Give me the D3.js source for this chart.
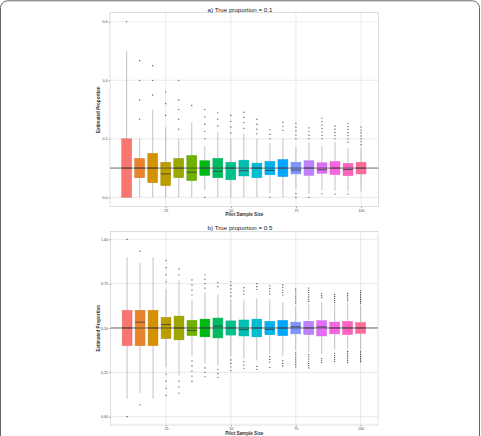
<!DOCTYPE html>
<html>
<head>
<meta charset="utf-8">
<script src="https://cdn.jsdelivr.net/npm/d3@7"></script>
<style>
  body { margin: 0; background: #fff; }
  text { font-family: "Liberation Sans", Arial, sans-serif; }
</style>
</head>
<body>
<div id="chart"></div>
<script>

// Pilot sample sizes (x positions of the boxes).
const sizes = [10, 15, 20, 25, 30, 35, 40, 45, 50, 55, 60, 65, 70, 75, 80, 85, 90, 95, 100];

// a) true proportion 0.1
const loA  = [0, 0, 0, 0, 0, 0, 0.025, 0, 0, 0, 0, 0.015, 0, 0.027, 0.0125, 0.024, 0.022, 0.021, 0.02];
const q1A  = [0, 0.067, 0.05, 0.04, 0.067, 0.057, 0.075, 0.067, 0.06, 0.073, 0.067, 0.077, 0.071, 0.08, 0.075, 0.082, 0.078, 0.074, 0.08];
const medA = [0.1, 0.1, 0.1, 0.08, 0.1, 0.086, 0.1, 0.089, 0.1, 0.091, 0.1, 0.092, 0.1, 0.093, 0.1, 0.094, 0.1, 0.095, 0.1];
const q3A  = [0.2, 0.133, 0.15, 0.12, 0.133, 0.143, 0.125, 0.133, 0.12, 0.127, 0.117, 0.123, 0.129, 0.12, 0.125, 0.118, 0.122, 0.116, 0.12];
const hiA  = [0.5, 0.2, 0.3, 0.24, 0.2, 0.257, 0.175, 0.222, 0.2, 0.218, 0.2, 0.185, 0.2, 0.173, 0.1875, 0.176, 0.189, 0.168, 0.17];
const outA = [
  [0.6],
  [0.267, 0.333, 0.4, 0.467],
  [0.35, 0.4, 0.45],
  [0.28, 0.32, 0.36],
  [0.233, 0.267, 0.3, 0.333, 0.4],
  [0.314],
  [0, 0.2, 0.225, 0.25, 0.275, 0.3],
  [0.244, 0.267, 0.289],
  [0.22, 0.24, 0.26, 0.28],
  [0.236, 0.255, 0.273, 0.291],
  [0.217, 0.233, 0.25, 0.267],
  [0, 0.2, 0.215, 0.231],
  [0.229, 0.243, 0.257],
  [0, 0.013, 0.2, 0.213, 0.227, 0.24, 0.253],
  [0, 0.2, 0.2125, 0.225, 0.2375],
  [0.012, 0.2, 0.212, 0.224, 0.235, 0.247, 0.259, 0.271],
  [0.011, 0.2, 0.211, 0.222, 0.233, 0.244],
  [0.011, 0.189, 0.2, 0.211, 0.221, 0.232, 0.242, 0.253],
  [0.18, 0.19, 0.2, 0.21, 0.22, 0.23, 0.24]
];

// b) true proportion 0.5
const loB  = [0.1, 0.133, 0.1, 0.28, 0.233, 0.343, 0.3, 0.289, 0.34, 0.327, 0.317, 0.354, 0.343, 0.373, 0.3625, 0.353, 0.378, 0.379, 0.38];
const q1B  = [0.4, 0.4, 0.4, 0.44, 0.433, 0.457, 0.45, 0.444, 0.46, 0.455, 0.45, 0.462, 0.457, 0.467, 0.463, 0.455, 0.467, 0.463, 0.47];
const medB = [0.5, 0.533, 0.5, 0.52, 0.5, 0.486, 0.5, 0.511, 0.5, 0.491, 0.5, 0.492, 0.5, 0.507, 0.5, 0.506, 0.5, 0.5, 0.5];
const q3B  = [0.6, 0.6, 0.6, 0.56, 0.567, 0.543, 0.55, 0.556, 0.54, 0.545, 0.55, 0.538, 0.543, 0.533, 0.538, 0.541, 0.533, 0.537, 0.53];
const hiB  = [0.9, 0.867, 0.9, 0.72, 0.767, 0.657, 0.7, 0.689, 0.66, 0.655, 0.667, 0.662, 0.643, 0.627, 0.6375, 0.647, 0.633, 0.642, 0.63];
const outB = [
  [0, 1],
  [0.067, 0.933],
  [],
  [0.12, 0.16, 0.2, 0.24, 0.76, 0.8, 0.84, 0.88],
  [0.133, 0.167, 0.2, 0.8, 0.833],
  [0.2, 0.229, 0.257, 0.286, 0.314, 0.686, 0.714, 0.743, 0.771],
  [0.225, 0.25, 0.275, 0.725, 0.75, 0.775, 0.8],
  [0.222, 0.244, 0.267, 0.733, 0.756],
  [0.26, 0.28, 0.3, 0.32, 0.68, 0.7, 0.72, 0.74, 0.76],
  [0.273, 0.291, 0.309, 0.691, 0.709, 0.727],
  [0.267, 0.283, 0.717, 0.733, 0.75],
  [0.277, 0.308, 0.323, 0.338, 0.692, 0.708, 0.723, 0.738],
  [0.286, 0.3, 0.314, 0.686, 0.7, 0.714, 0.729, 0.743],
  [0.28, 0.293, 0.307, 0.32, 0.333, 0.347, 0.36, 0.64, 0.653, 0.667, 0.68, 0.693, 0.707, 0.72],
  [0.275, 0.2875, 0.3, 0.3125, 0.325, 0.3375, 0.35, 0.65, 0.6625, 0.675, 0.6875, 0.7, 0.7125, 0.725],
  [0.306, 0.318, 0.329, 0.671, 0.682, 0.694],
  [0.311, 0.322, 0.333, 0.344, 0.356, 0.644, 0.656, 0.667, 0.678, 0.689],
  [0.305, 0.316, 0.326, 0.337, 0.347, 0.358, 0.368, 0.653, 0.663, 0.674, 0.684, 0.695],
  [0.31, 0.32, 0.33, 0.34, 0.35, 0.36, 0.37, 0.64, 0.65, 0.66, 0.67, 0.68, 0.69, 0.7, 0.71]
];

const xTicks = [25, 50, 75, 100];
const yTicksA = [0, 0.2, 0.4, 0.6];
const yTicksB = [0, 0.25, 0.5, 0.75, 1];

const WIDTH = 481;
const HEIGHT = 436;
const BOX_W = 3.8;   // box width in x units

// ggplot-like hue colour (polar LUV -> sRGB), l = 65, c = 100
function hueColor(h) {
    var L = 65, C = 100;
    var Xn = 95.047, Yn = 100, Zn = 108.883;
    var u = C * Math.cos(h * Math.PI / 180), v = C * Math.sin(h * Math.PI / 180);
    var Y = Yn * Math.pow((L + 16) / 116, 3);
    var t = Xn + Yn + Zn, x = Xn / t, y = Yn / t;
    var uN = 2 * x / (6 * y - x + 1.5), vN = 4.5 * y / (6 * y - x + 1.5);
    var Q = u / (13 * L) + uN, R = v / (13 * L) + vN;
    var X = 9 * Y * Q / (4 * R);
    var Z = -X / 3 - 5 * Y + 3 * Y / R;
    function g(c) {
        c = c > 0.00304 ? 1.055 * Math.pow(c, 1 / 2.4) - 0.055 : 12.92 * c;
        return Math.round(255 * Math.max(0, Math.min(1, c)));
    }
    return d3.rgb(g((3.240479 * X - 1.537150 * Y - 0.498535 * Z) / Yn),
                  g((-0.969256 * X + 1.875992 * Y + 0.041556 * Z) / Yn),
                  g((0.055648 * X - 0.204043 * Y + 1.057311 * Z) / Yn)).formatHex();
}

const colors = sizes.map(function (d, i) { return hueColor(15 + i * 360 / sizes.length); });

var svg = d3.select("#chart").append("svg")
            .attr("width", WIDTH)
            .attr("height", HEIGHT);

// outer frame of the figure
svg.append("rect")
   .attr("x", 0.5).attr("y", 0.8)
   .attr("width", 479).attr("height", 470)
   .attr("rx", 7)
   .attr("fill", "none")
   .attr("stroke", "#666")
   .attr("stroke-width", 1);

function drawPanel(p) {
    var x = d3.scaleLinear().domain([3.6, 106.7]).range([p.left, p.right]);
    var y = d3.scaleLinear().domain(p.yDomain).range([p.bottom, p.top]);

    var g = svg.append("g");

    g.append("rect")
     .attr("x", p.left).attr("y", p.top)
     .attr("width", p.right - p.left).attr("height", p.bottom - p.top)
     .attr("fill", "#fff");

    // grid
    g.selectAll(".gx").data(xTicks).enter().append("line")
     .attr("x1", function (d) { return x(d); }).attr("x2", function (d) { return x(d); })
     .attr("y1", p.top).attr("y2", p.bottom)
     .attr("stroke", "#dcdcdc").attr("stroke-width", 0.6);
    g.selectAll(".gy").data(p.yTicks).enter().append("line")
     .attr("y1", function (d) { return y(d); }).attr("y2", function (d) { return y(d); })
     .attr("x1", p.left).attr("x2", p.right)
     .attr("stroke", "#dcdcdc").attr("stroke-width", 0.6);

    var boxes = g.selectAll(".box").data(sizes).enter().append("g");

    // whiskers
    boxes.append("line")
         .attr("x1", function (d) { return x(d); }).attr("x2", function (d) { return x(d); })
         .attr("y1", function (d, i) { return y(p.hi[i]); })
         .attr("y2", function (d, i) { return y(p.q3[i]); })
         .attr("stroke", "#a8a8a8").attr("stroke-width", 0.7);
    boxes.append("line")
         .attr("x1", function (d) { return x(d); }).attr("x2", function (d) { return x(d); })
         .attr("y1", function (d, i) { return y(p.q1[i]); })
         .attr("y2", function (d, i) { return y(p.lo[i]); })
         .attr("stroke", "#a8a8a8").attr("stroke-width", 0.7);

    // outliers
    boxes.each(function (d, i) {
        d3.select(this).selectAll("circle").data(p.out[i]).enter().append("circle")
          .attr("cx", x(d))
          .attr("cy", function (v) { return y(v); })
          .attr("r", 0.6)
          .attr("fill", "#333");
    });

    // boxes
    var bw = x(BOX_W) - x(0);
    boxes.append("rect")
         .attr("x", function (d) { return x(d) - bw / 2; })
         .attr("y", function (d, i) { return y(p.q3[i]); })
         .attr("width", bw)
         .attr("height", function (d, i) { return Math.max(0.5, y(p.q1[i]) - y(p.q3[i])); })
         .attr("fill", function (d, i) { return colors[i]; })
         .attr("stroke", function (d, i) { return d3.color(colors[i]).darker(0.25); })
         .attr("stroke-width", 0.5);

    boxes.append("line")
         .attr("x1", function (d) { return x(d) - bw / 2; })
         .attr("x2", function (d) { return x(d) + bw / 2; })
         .attr("y1", function (d, i) { return y(p.med[i]); })
         .attr("y2", function (d, i) { return y(p.med[i]); })
         .attr("stroke", "#3a3a3a").attr("stroke-width", 0.8);

    // true proportion line
    g.append("line")
     .attr("x1", p.left).attr("x2", p.right)
     .attr("y1", y(p.truth)).attr("y2", y(p.truth))
     .attr("stroke", "#444").attr("stroke-width", 0.8);

    // border
    g.append("rect")
     .attr("x", p.left).attr("y", p.top)
     .attr("width", p.right - p.left).attr("height", p.bottom - p.top)
     .attr("fill", "none").attr("stroke", "#c8c8c8").attr("stroke-width", 0.6);

    // axes
    var ax = g.append("g")
              .attr("transform", "translate(0," + p.bottom + ")")
              .call(d3.axisBottom(x).tickValues(xTicks).tickSize(1.5).tickPadding(1));
    var ay = g.append("g")
              .attr("transform", "translate(" + p.left + ",0)")
              .call(d3.axisLeft(y).tickValues(p.yTicks).tickFormat(d3.format(p.fmt)).tickSize(1.5).tickPadding(1));
    [ax, ay].forEach(function (a) {
        a.select(".domain").remove();
        a.selectAll("line").attr("stroke", "#555").attr("stroke-width", 0.5);
        a.selectAll("text").attr("font-size", "3.6px").attr("fill", "#444").attr("font-family", "Liberation Sans, Arial, sans-serif");
    });

    g.append("text")
     .attr("x", (p.left + p.right) / 2)
     .attr("y", p.bottom + 9.5)
     .attr("text-anchor", "middle")
     .attr("font-size", "4.6px").attr("font-weight", "bold").attr("fill", "#333")
     .text("Pilot Sample Size");

    g.append("text")
     .attr("transform", "translate(" + (p.left - 10.5) + "," + ((p.top + p.bottom) / 2) + ") rotate(-90)")
     .attr("text-anchor", "middle")
     .attr("font-size", "4.6px").attr("font-weight", "bold").attr("fill", "#333")
     .text("Estimated Proportion");

    g.append("text")
     .attr("x", 240)
     .attr("y", p.top - 1.2)
     .attr("text-anchor", "middle")
     .attr("font-size", "6.2px").attr("fill", "#222")
     .text(p.title);
}

drawPanel({
    left: 110, right: 378.5, top: 12.7, bottom: 206.7,
    yDomain: [-0.032, 0.631], yTicks: yTicksA, fmt: ".1f", truth: 0.1,
    lo: loA, q1: q1A, med: medA, q3: q3A, hi: hiA, out: outA,
    title: "a) True proportion = 0.1"
});

drawPanel({
    left: 110.5, right: 378, top: 231.5, bottom: 425,
    yDomain: [-0.047, 1.044], yTicks: yTicksB, fmt: ".2f", truth: 0.5,
    lo: loB, q1: q1B, med: medB, q3: q3B, hi: hiB, out: outB,
    title: "b) True proportion = 0.5"
});

</script>
</body>
</html>
